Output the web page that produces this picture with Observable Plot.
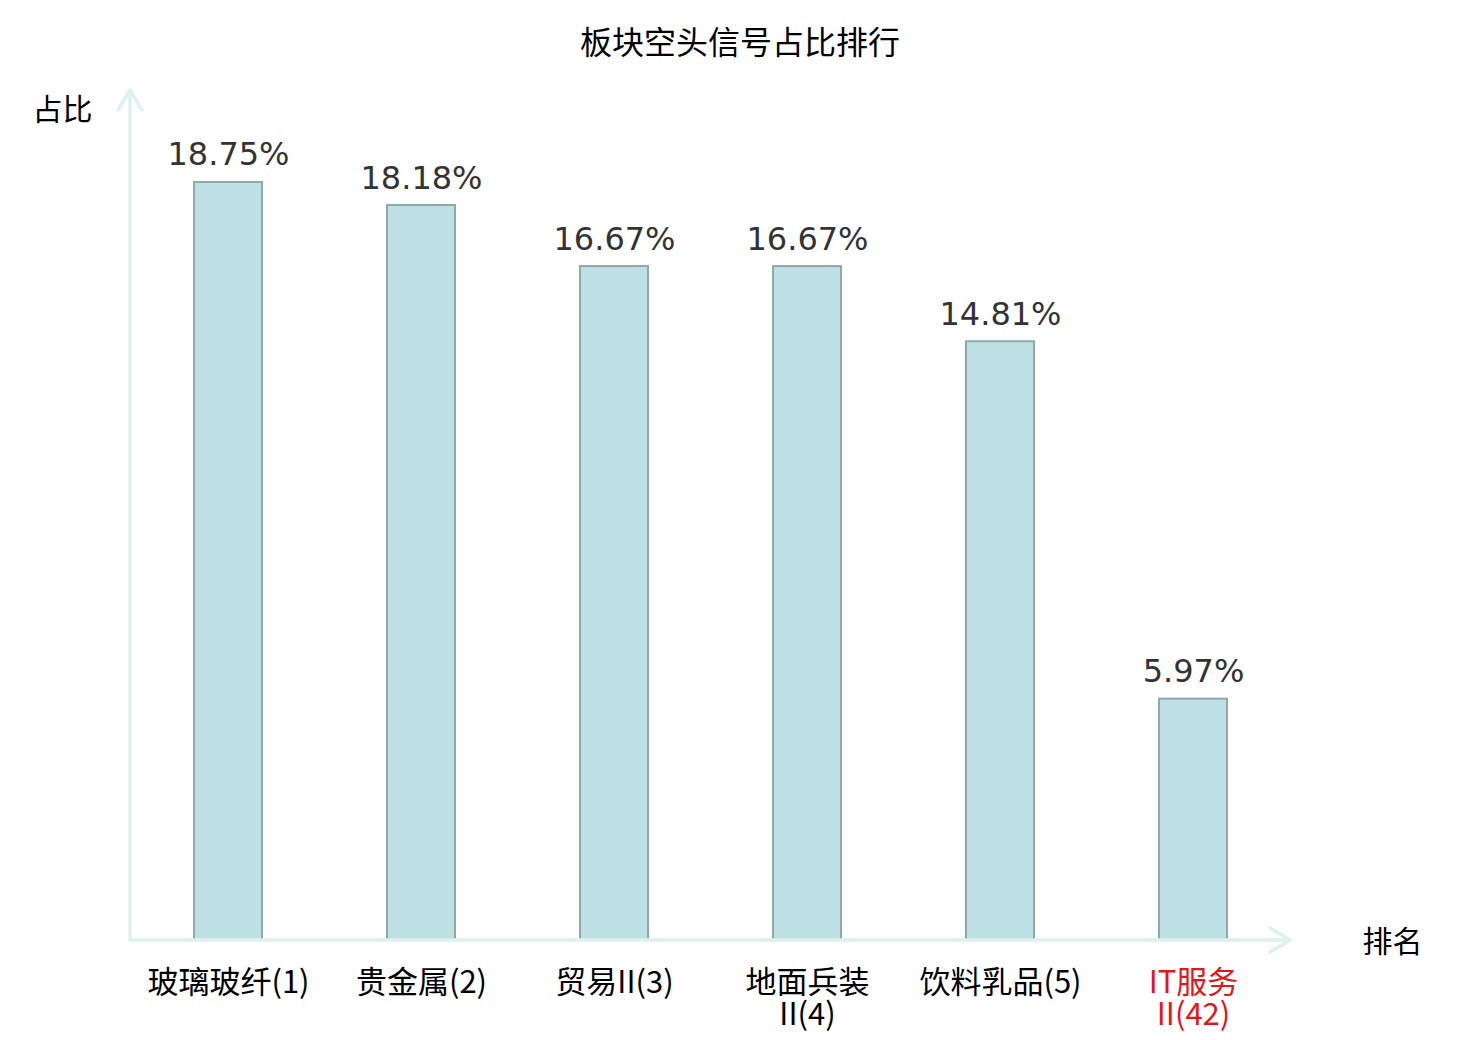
<!DOCTYPE html>
<html>
<head>
<meta charset="utf-8">
<script src="https://cdn.jsdelivr.net/npm/d3@7"></script>
<script src="https://cdn.jsdelivr.net/npm/@observablehq/plot@0.6"></script>
<style>
  html, body { margin: 0; padding: 0; background: #fff; }
  #title { height: 84px; line-height: 80px; text-align: center; font-family: "Noto Sans CJK SC", sans-serif; font-size: 32px; color: #000; width: 1480px; }
</style>
</head>
<body>
<div id="title">板块空头信号占比排行</div>
<div id="chart"></div>
<script>
const categories = ["玻璃玻纤(1)", "贵金属(2)", "贸易II(3)", "地面兵装\nII(4)", "饮料乳品(5)", "IT服务\nII(42)"];
const values = [18.75, 18.18, 16.67, 16.67, 14.81, 5.97];
const valueLabels = ["18.75%", "18.18%", "16.67%", "16.67%", "14.81%", "5.97%"];
const highlighted = ["IT服务\nII(42)"];
const yLabel = "占比";
const xLabel = "排名";
const yDomain = [0, 21];

const data = categories.map((c, i) => ({category: c, value: values[i], label: valueLabels[i]}));

const axisColor = "#ddf1ee";

function axesWithArrows(index, scales, channels, dimensions) {
  const {width, height, marginLeft, marginRight, marginTop, marginBottom} = dimensions;
  const x0 = marginLeft, x1 = width - marginRight;
  const y0 = height - marginBottom, y1 = marginTop - 1;
  const g = d3.create("svg:g")
    .attr("fill", "none")
    .attr("stroke", axisColor)
    .attr("stroke-width", 3.5)
    .attr("stroke-linecap", "round")
    .attr("stroke-linejoin", "round");
  g.append("path").attr("d", `M${x0},${y0}L${x0},${y1}`);
  g.append("path").attr("d", `M${x0 - 12},${y1 + 20}L${x0},${y1}L${x0 + 12},${y1 + 20}`);
  g.append("path").attr("d", `M${x0},${y0}L${x1},${y0}`);
  g.append("path").attr("d", `M${x1 - 20},${y0 - 12}L${x1},${y0}L${x1 - 20},${y0 + 12}`);
  return g.node();
}

const chart = Plot.plot({
  width: 1480,
  height: 956,
  marginLeft: 130,
  marginRight: 190,
  marginTop: 7,
  marginBottom: 100,
  style: {fontFamily: "'Noto Sans CJK SC', sans-serif", background: "#fff"},
  x: {domain: categories, paddingInner: 0.648, paddingOuter: 0.324, label: null},
  y: {domain: yDomain, axis: null},
  marks: [
    Plot.barY(data, {x: "category", y: "value", fill: "#bce0e3", stroke: "#8fa9aa", strokeWidth: 2}),
    axesWithArrows,
    Plot.text(data, {x: "category", y: "value", text: "label", lineAnchor: "bottom", dy: -17,
      fontSize: 32, fill: "#333", fontFamily: "'DejaVu Sans', sans-serif"}),
    Plot.axisX({ticks: categories.filter(c => !highlighted.includes(c)), tickSize: 0, tickPadding: 29,
      fontSize: 31, lineHeight: 1.05, fill: "#000", label: null}),
    Plot.axisX({ticks: highlighted, tickSize: 0, tickPadding: 29,
      fontSize: 31, lineHeight: 1.05, fill: "#e4161a", label: null}),
    Plot.text([yLabel], {frameAnchor: "top-left", text: d => d, textAnchor: "end", lineAnchor: "middle",
      dx: -38, dy: 19, fontSize: 30, fill: "#000"}),
    Plot.text([xLabel], {frameAnchor: "bottom-right", text: d => d, textAnchor: "start", lineAnchor: "middle",
      dx: 72, dy: 2, fontSize: 30, fill: "#000"})
  ]
});
document.getElementById("chart").appendChild(chart);
</script>
</body>
</html>
